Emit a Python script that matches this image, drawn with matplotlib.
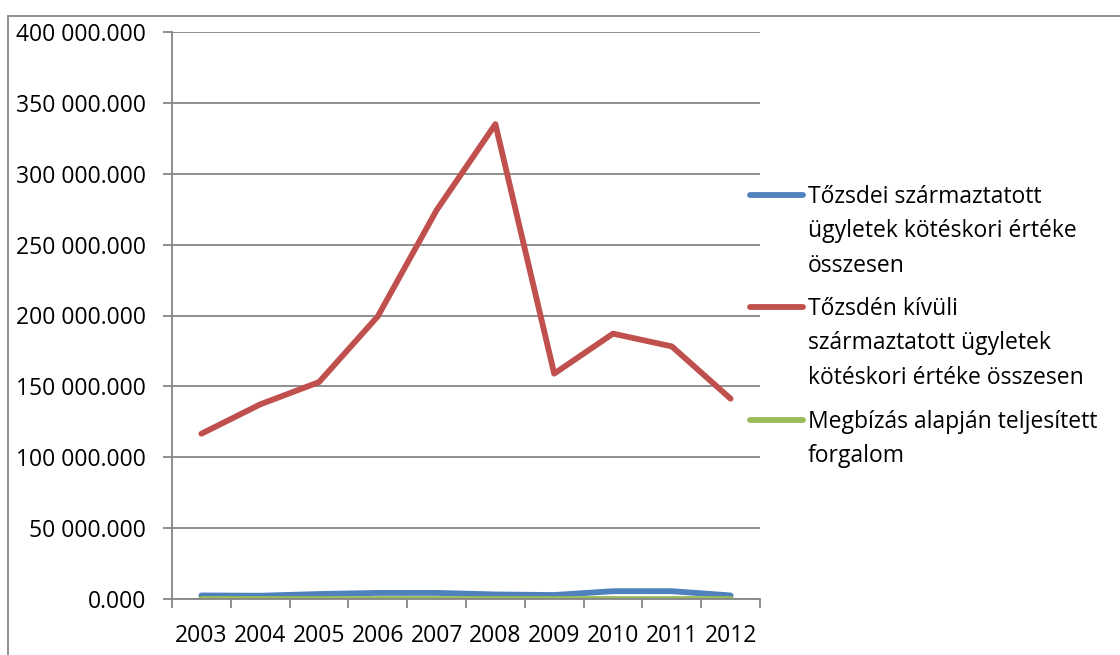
import matplotlib
matplotlib.use("Agg")
import matplotlib.pyplot as plt
from matplotlib.lines import Line2D
from matplotlib.patches import Rectangle
from matplotlib.ticker import FuncFormatter

plt.rcParams['font.family'] = ['Open Sans', 'DejaVu Sans']

years = ['2003', '2004', '2005', '2006', '2007', '2008', '2009', '2010', '2011', '2012']

# értékek ezerben (a tengely felirata ezres bontású)
tozsdei = [2500, 2300, 3500, 4300, 4300, 3200, 2800, 5500, 5500, 2500]
tozsden_kivuli = [116600, 137300, 153000, 199400, 274300, 335000, 159000, 187200, 178200, 141300]
megbizas = [300, 300, 300, 300, 300, 300, 300, 300, 300, 300]

labels = ['Tőzsdei származtatott\nügyletek kötéskori értéke\nösszesen',
          'Tőzsdén kívüli\nszármaztatott ügyletek\nkötéskori értéke összesen',
          'Megbízás alapján teljesített\nforgalom']
colors = ['#4f81bd', '#c0504d', '#9bbb59']
fs = 16.5

W, H = 1120, 655
fig = plt.figure(figsize=(W / 100, H / 100), dpi=100)
ax = fig.add_axes([172 / W, 1 - 599 / H, (760 - 172) / W, (599 - 32) / H])

x = list(range(len(years)))
for vals, c in zip([tozsdei, tozsden_kivuli, megbizas], colors):
    ax.plot(x, vals, color=c, lw=4.2, solid_capstyle='round', solid_joinstyle='round')

ax.set_ylim(0, 400000)
ax.set_xlim(-0.5, len(years) - 0.5)
ax.set_yticks([i * 50000 for i in range(9)])
ax.yaxis.set_major_formatter(FuncFormatter(lambda v, p: f'{v:,.3f}'.replace(',', ' ')))
ax.set_xticks(x)
ax.set_xticklabels(years)
ax.set_xticks([i - 0.5 for i in range(len(years) + 1)], minor=True)

grid_c = '#868686'
ax.grid(axis='y', color=grid_c, lw=1.3)
ax.set_axisbelow(True)
for s in ['top', 'right']:
    ax.spines[s].set_visible(False)
for s in ['left', 'bottom']:
    ax.spines[s].set_color(grid_c)
    ax.spines[s].set_linewidth(1.3)

ax.tick_params(axis='y', direction='out', length=6.5, width=1.3, color=grid_c,
               labelsize=fs, pad=12)
ax.tick_params(axis='x', which='major', length=0, labelsize=fs, pad=18)
ax.tick_params(axis='x', which='minor', direction='out', length=6.5, width=1.3,
               color=grid_c)

# jelmagyarázat
entry_y = [195, 307, 420]
for lab, c, yy in zip(labels, colors, entry_y):
    fy = 1 - yy / H
    fig.add_artist(Line2D([750 / W, 803 / W], [fy, fy], color=c, lw=4.2,
                          solid_capstyle='round'))
    fig.text(808 / W, 1 - (yy - 10) / H, lab, fontsize=fs, va='top', ha='left',
             linespacing=1.58)

# diagramterület kerete
fig.add_artist(Rectangle((8 / W, -0.1), 1.2, 1 - 16 / H + 0.1, fill=False,
                         edgecolor='#868686', lw=1.3, transform=fig.transFigure))

fig.savefig('out.png', dpi=100)
